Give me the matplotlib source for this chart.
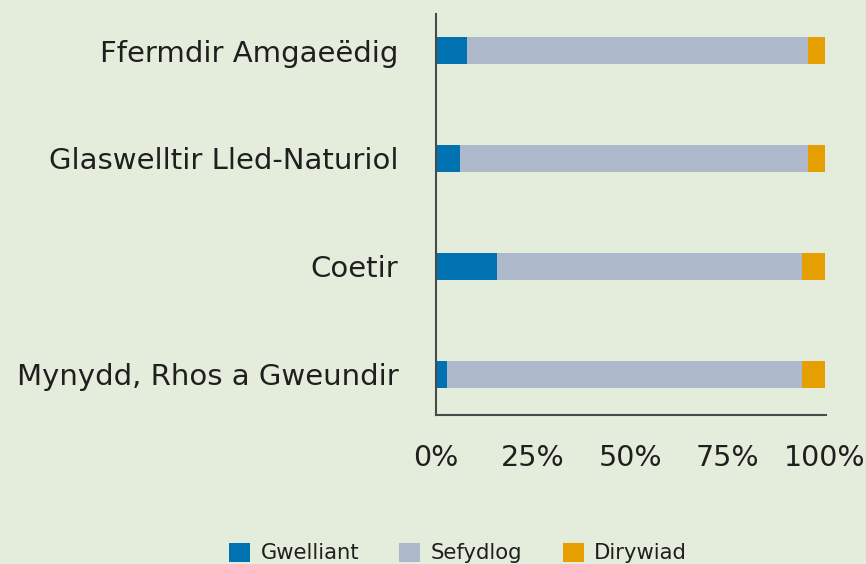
import matplotlib
matplotlib.use("Agg")
import matplotlib.pyplot as plt
import numpy as np

categories = ["Ffermdir Amgaeëdig", "Glaswelltir Lled-Naturiol", "Coetir", "Mynydd, Rhos a Gweundir"]
gwelliant = [8.0, 6.2, 15.7, 2.8]
sefydlog = [87.6, 89.4, 78.4, 91.3]
dirywiad = [4.4, 4.4, 5.9, 5.9]
series_names = ["Gwelliant", "Sefydlog", "Dirywiad"]
colors = ["#0072b2", "#adb8cb", "#e69f00"]
xticks = [0, 25, 50, 75, 100]
xticklabels = ["0%", "25%", "50%", "75%", "100%"]

bg = "#e4eddb"
txt = "#1f1f1f"
plt.rcParams['font.family'] = ['DejaVu Sans']

fig = plt.figure(figsize=(8.66, 5.64), dpi=100, facecolor=bg)
ax = fig.add_axes([436/866, 1-415/564, 390/866, 401/564])
ax.set_facecolor(bg)

y = np.arange(len(categories))
left = np.zeros(len(categories))
for vals, name, c in zip([gwelliant, sefydlog, dirywiad], series_names, colors):
    ax.barh(y, vals, left=left, height=0.25, color=c, label=name)
    left += np.array(vals)

ax.set_ylim(3.38, -0.34)
ax.set_xlim(0, 100.3)
ax.set_yticks(y)
ax.set_yticklabels(categories, fontsize=21, color=txt)
ax.set_xticks(xticks)
ax.set_xticklabels(xticklabels, fontsize=20.5, color=txt)
ax.tick_params(axis='both', length=0)
ax.tick_params(axis='y', pad=27)
ax.tick_params(axis='x', pad=21)
for s in ["top", "right"]:
    ax.spines[s].set_visible(False)
for s in ["left", "bottom"]:
    ax.spines[s].set_color("#4a4a4a")
    ax.spines[s].set_linewidth(1.5)

handles, labels = ax.get_legend_handles_labels()
leg = fig.legend(handles, labels, loc='center', bbox_to_anchor=(458/866, 1-553/564),
                 ncol=3, frameon=False, fontsize=15.2, handlelength=1.0, handleheight=1.0,
                 columnspacing=1.9, handletextpad=0.5)
for t in leg.get_texts():
    t.set_color(txt)

fig.savefig("out.png", dpi=100, facecolor=bg)
